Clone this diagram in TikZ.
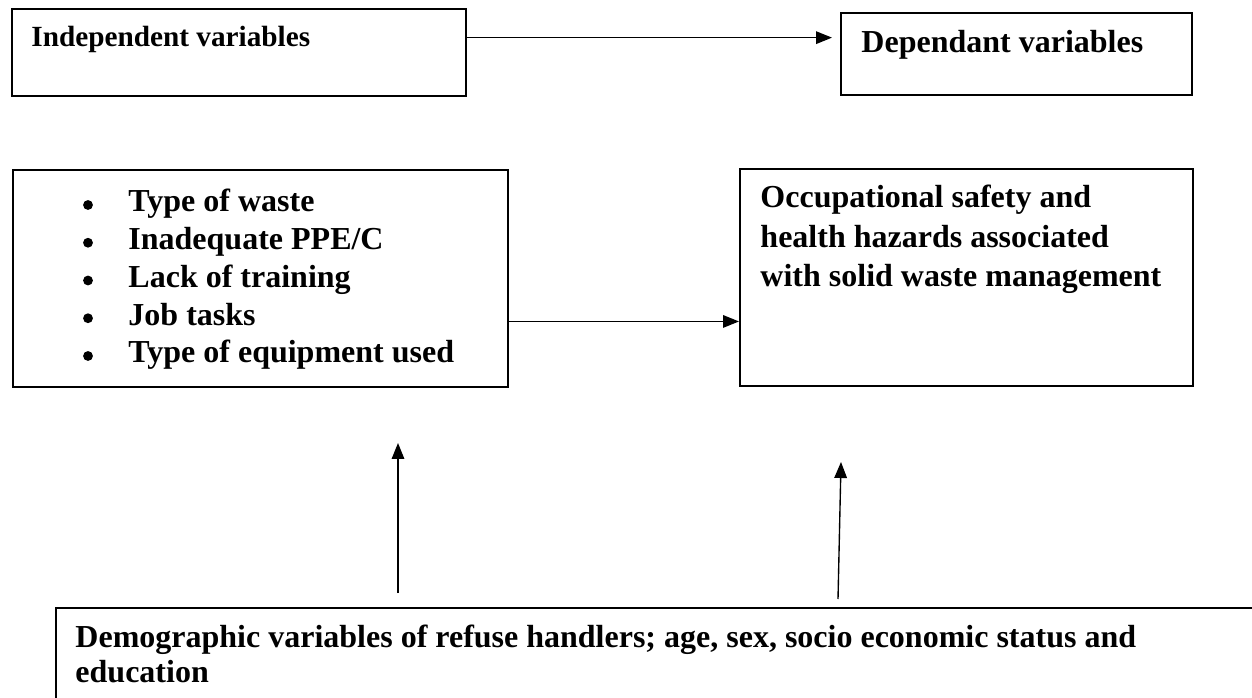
\documentclass[tikz,border=0pt]{standalone}
\usepackage{fontspec}
\setmainfont{Liberation Serif}
\usetikzlibrary{arrows.meta, calc, positioning}
\tikzset{
  frame/.style={draw, line width=0.9pt, inner sep=0pt, anchor=north west},
  boxdim/.style 2 args={minimum width=#1*0.4375pt, minimum height=#2*0.4375pt},
  boldtext/.style={font=\bfseries\fontsize{14}{17.3}\selectfont, inner sep=0pt},
  smalltext/.style={font=\bfseries\fontsize{12.8}{15}\selectfont, inner sep=0pt},
  bigdot/.style={circle, fill, inner sep=0pt, minimum size=4.3pt},
  flow/.style={line width=0.6pt, -{Triangle[length=7pt, width=5.5pt]}},
}

\begin{document}
\begin{tikzpicture}[x=0.4375pt, y=-0.4375pt]
  \useasboundingbox (0,0) rectangle (1252,698);
  % header boxes
  \node[frame, boxdim={454}{87}] (iv) at (11,8) {};
  \node[frame, boxdim={351}{82}] (dv) at (840,12) {};
  \node[smalltext, anchor=base west] (ivtext) at (31,47) {Independent variables};
  \node[boldtext, anchor=base west] (dvtext) at (861,53) {Dependant variables};
  \draw[flow, shorten >=3.5pt] ($(iv.north east)!0.333!(iv.south east)$) coordinate (ivout)
    -- (dv.west |- ivout);
  % factors and outcome
  \node[frame, boxdim={495}{217}] (list) at (12,169) {};
  \node[frame, boxdim={453}{217}] (occ) at (739,168) {};
  \foreach \entry [count=\i] in {Type of waste, Inadequate PPE/C, Lack of training,
                                 Job tasks, Type of equipment used} {
    \node[boldtext, anchor=base west] (entry\i) at (128,{212+37.75*(\i-1)}) {\entry};
    \node[bigdot] (dot\i) at (88,{205+37.75*(\i-1)}) {};
  }
  % anchor base = last line
  \node[boldtext, anchor=base west, align=left] (occtext) at (760,287)
    {Occupational safety and\\health hazards associated\\with solid waste management};
  \draw[flow] ($(list.north east)!0.696!(list.south east)$) coordinate (listout)
    -- (occ.west |- listout);
  % demographic moderators
  \node[frame, boxdim={1300}{200}] (demo) at (55,607) {};
  \node[boldtext, anchor=base west, align=left, font=\bfseries\fontsize{14}{15.3}\selectfont]
    (demotext) at (75,682)
    {Demographic variables of refuse handlers; age, sex, socio economic status and\\education};
  \coordinate (demoL) at (398,593);
  \coordinate (listB) at (398,443);
  \coordinate (demoR) at (838,599);
  \coordinate (occB) at (841,462);
  \draw[flow] (demoL) -- (listB);
  \draw[flow] (demoR) -- (occB);
\end{tikzpicture}
\end{document}
